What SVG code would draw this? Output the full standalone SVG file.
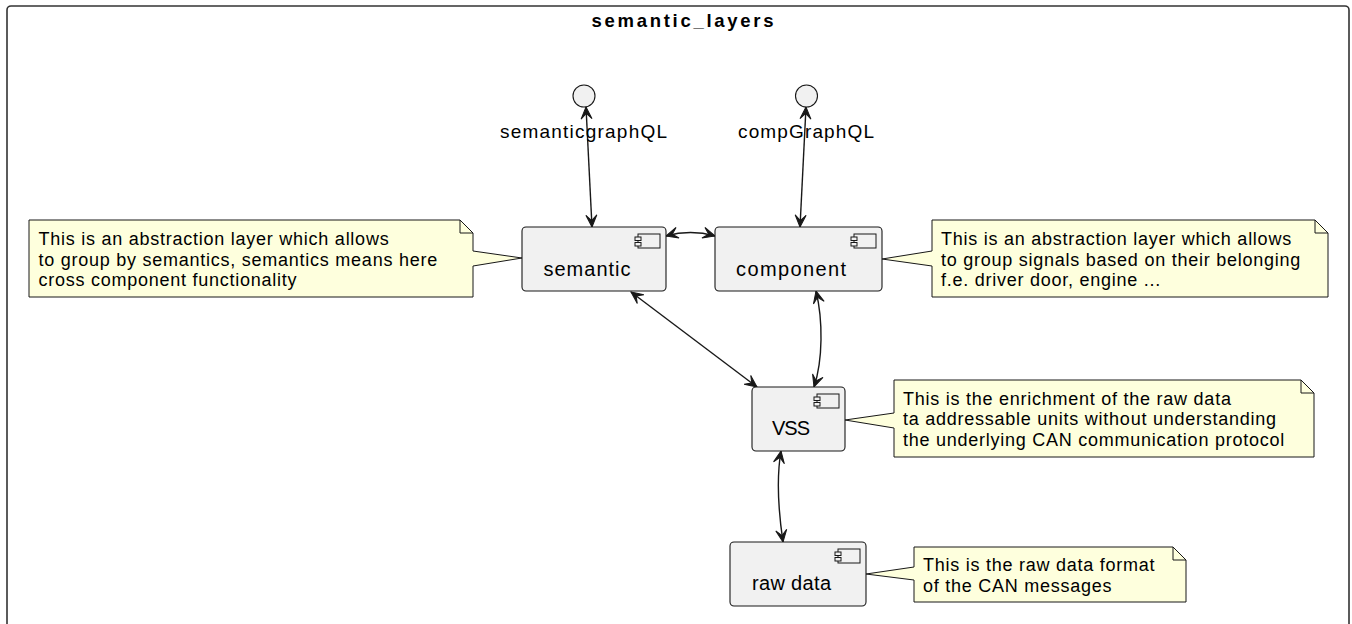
<svg xmlns="http://www.w3.org/2000/svg" xmlns:xlink="http://www.w3.org/1999/xlink" width="1352" height="624" viewBox="0 0 1352 624">
  <style>
    .frame { fill: #ffffff; stroke: #333333; stroke-width: 1.6; }
    .title { font-family: "Liberation Sans", Arial, sans-serif; font-size: 18.5px; font-weight: bold; fill: #000000; }
    .comp { fill: #F1F1F1; stroke: #181818; stroke-width: 1.1; }
    .iface { fill: #F1F1F1; stroke: #181818; stroke-width: 1.1; }
    .label { font-family: "Liberation Sans", Arial, sans-serif; font-size: 20px; fill: #000000; }
    .ilabel { font-family: "Liberation Sans", Arial, sans-serif; font-size: 19px; fill: #000000; }
    .note { fill: #FEFFDD; stroke: #181818; stroke-width: 1; }
    .fold { fill: none; stroke: #181818; stroke-width: 1; }
    .ntext { font-family: "Liberation Sans", Arial, sans-serif; font-size: 18px; letter-spacing: 0.75px; fill: #000000; }
    .link { fill: none; stroke: #181818; stroke-width: 1.4; marker-start: url(#arrow); marker-end: url(#arrow); }
  </style>
  <defs>
    <marker id="arrow" markerUnits="userSpaceOnUse" markerWidth="14" markerHeight="14" refX="13" refY="7" orient="auto-start-reverse" overflow="visible">
      <path d="M13,7 L1,1.5 L6.5,7 L1,12.5 Z" fill="#181818" stroke="#181818" stroke-width="1"/>
    </marker>
    <!-- component glyph, origin at the top-right corner of its box -->
    <g id="compIcon" fill="#F1F1F1" stroke="#181818" stroke-width="1">
      <rect x="-28" y="7" width="22" height="14"/>
      <rect x="-31" y="10" width="6" height="3.5"/>
      <rect x="-31" y="15.5" width="6" height="3.5"/>
    </g>
  </defs>

  <!-- package frame -->
  <g id="semantic_layers">
    <rect class="frame" x="7" y="6" width="1342" height="640" rx="4"/>
    <text class="title" x="591.5" y="27" textLength="182" lengthAdjust="spacing">semantic_layers</text>
  </g>

  <!-- connectors -->
  <g id="connectors">
    <path class="link" d="M586,107 C588,150 590,190 592,227"/>
    <path class="link" d="M806,107 C804,150 802,190 800,227"/>
    <path class="link" d="M666,236 C682,231.5 699,231.5 715,236"/>
    <path class="link" d="M631,292 L757,387"/>
    <path class="link" d="M816,291 C823,320 823,360 814,387"/>
    <path class="link" d="M781,451 C776,480 779,515 783,542"/>
  </g>

  <!-- interfaces -->
  <g id="semanticgraphQL">
    <circle class="iface" cx="584" cy="96" r="11"/>
    <text class="ilabel" x="500" y="138" textLength="167" lengthAdjust="spacing">semanticgraphQL</text>
  </g>
  <g id="compGraphQL">
    <circle class="iface" cx="806.5" cy="96" r="11"/>
    <text class="ilabel" x="738" y="138" textLength="136" lengthAdjust="spacing">compGraphQL</text>
  </g>

  <!-- components -->
  <g id="semantic">
    <rect class="comp" x="522" y="227" width="144" height="64" rx="4"/>
    <use xlink:href="#compIcon" x="666" y="227"/>
    <text class="label" x="543.5" y="275.5" textLength="87" lengthAdjust="spacing">semantic</text>
  </g>
  <g id="component">
    <rect class="comp" x="715" y="227" width="167" height="64" rx="4"/>
    <use xlink:href="#compIcon" x="882" y="227"/>
    <text class="label" x="736" y="275.5" textLength="110" lengthAdjust="spacing">component</text>
  </g>
  <g id="VSS">
    <rect class="comp" x="752" y="387" width="93" height="64" rx="4"/>
    <use xlink:href="#compIcon" x="845" y="387"/>
    <text class="label" x="772" y="435" textLength="38" lengthAdjust="spacing">VSS</text>
  </g>
  <g id="raw_data">
    <rect class="comp" x="730" y="542" width="136" height="64" rx="4"/>
    <use xlink:href="#compIcon" x="866" y="542"/>
    <text class="label" x="752" y="590" textLength="79" lengthAdjust="spacing">raw data</text>
  </g>

  <!-- notes -->
  <g id="note_semantic">
    <path class="note" d="M29,220 L29,297 L473,297 L473,266 L522,258 L473,251 L473,233 L460,220 Z"/>
    <path class="fold" d="M460,220 L460,233 L473,233"/>
    <text class="ntext" x="38.5" y="245">This is an abstraction layer which allows</text>
    <text class="ntext" x="38.5" y="265.5">to group by semantics, semantics means here</text>
    <text class="ntext" x="38.5" y="286">cross component functionality</text>
  </g>
  <g id="note_component">
    <path class="note" d="M932,220 L932,251 L882,259 L932,266 L932,297 L1328,297 L1328,233 L1315,220 Z"/>
    <path class="fold" d="M1315,220 L1315,233 L1328,233"/>
    <text class="ntext" x="941" y="245">This is an abstraction layer which allows</text>
    <text class="ntext" x="941" y="265.5">to group signals based on their belonging</text>
    <text class="ntext" x="941" y="286">f.e. driver door, engine ...</text>
  </g>
  <g id="note_vss">
    <path class="note" d="M894,380 L894,413 L845,420 L894,428 L894,457 L1314,457 L1314,393 L1301,380 Z"/>
    <path class="fold" d="M1301,380 L1301,393 L1314,393"/>
    <text class="ntext" x="903" y="404.5">This is the enrichment of the raw data</text>
    <text class="ntext" x="903" y="425">ta addressable units without understanding</text>
    <text class="ntext" x="903" y="445.5">the underlying CAN communication protocol</text>
  </g>
  <g id="note_raw_data">
    <path class="note" d="M914,547 L914,567 L866,574 L914,580 L914,602 L1186,602 L1186,560 L1173,547 Z"/>
    <path class="fold" d="M1173,547 L1173,560 L1186,560"/>
    <text class="ntext" x="923" y="570.5">This is the raw data format</text>
    <text class="ntext" x="923" y="591.5">of the CAN messages</text>
  </g>
</svg>
